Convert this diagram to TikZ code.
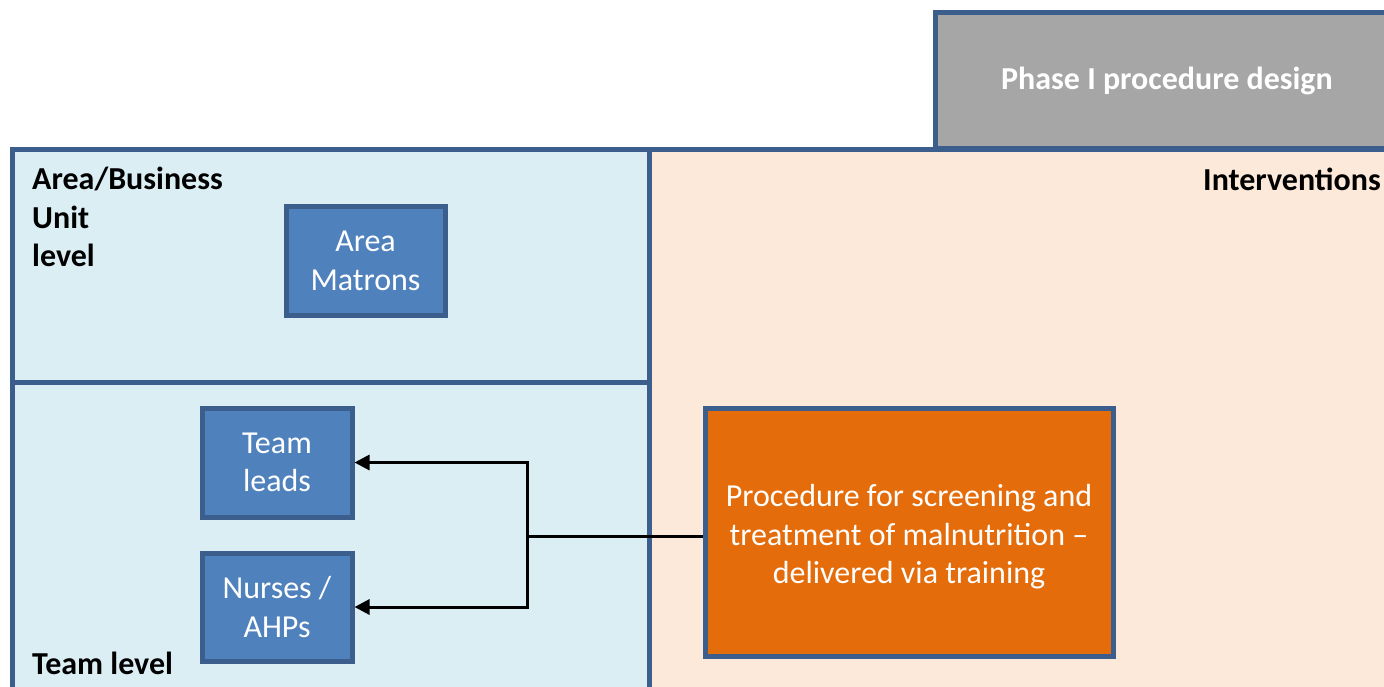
\documentclass[tikz,border=0pt]{standalone}
\usepackage{fontspec}
\setmainfont{Carlito}
\usetikzlibrary{arrows.meta}
\definecolor{bord}{HTML}{3B5E8C}
\definecolor{lblue}{HTML}{DBEEF4}
\definecolor{peach}{HTML}{FDE9DA}
\definecolor{greyfill}{HTML}{A6A6A6}
\definecolor{boxblue}{HTML}{4F81BD}
\definecolor{orangefill}{HTML}{E46C0A}
\tikzset{
  region/.style={draw=bord, line width=5pt},
  pbox/.style={draw=bord, line width=5pt, fill=boxblue, text=white, align=center,
    font=\fontsize{32}{38.5}\selectfont, inner sep=0pt},
  obox/.style={pbox, fill=orangefill},
  hdr/.style={font=\fontsize{32}{38.5}\selectfont\bfseries, inner sep=0pt, align=left},
  conn/.style={draw=black, line width=3pt},
  arr/.style={conn, -{Triangle[length=15pt,width=15pt]}},
}
\begin{document}
\begin{tikzpicture}[x=1pt,y=-1pt]
\useasboundingbox (0,0) rectangle (1384,686);
\begin{scope}
\clip (0,0) rectangle (1384,686);
\draw[region, fill=peach] (649,149) rectangle (1420,720);
\draw[region, fill=lblue] (12,149) rectangle (649,382);
\draw[region, fill=lblue] (12,382) rectangle (649,720);
\draw[region, fill=greyfill] (935,12) rectangle (1401,148);
\end{scope}
\node[hdr, text=white] (phase) at (1167,81) {Phase I procedure design};
\node[hdr, anchor=east] (interv) at (1381,179) {Interventions};
\node[hdr, anchor=west] (arealbl) at (32,217) {Area/Business\\Unit\\level};
\node[hdr, anchor=west] (teamlbl) at (32,663) {Team level};

\node[pbox, minimum width=159pt, minimum height=109pt] (matrons) at (365.5,261) {Area\\Matrons};
\node[pbox, minimum width=150pt, minimum height=109pt] (leads) at (277,462.5) {Team\\leads};
\node[pbox, minimum width=150pt, minimum height=108pt] (nurses) at (277,607) {Nurses /\\AHPs};
\node[obox, minimum width=408pt, minimum height=248pt] (proc) at (909,532) {\rule{0pt}{32pt}Procedure for screening and\\treatment of malnutrition –\\delivered via training};

\coordinate (j) at (527,536);
\draw[conn] (j -| proc.west) -- (j);
\draw[arr] (j) |- (leads.east);
\draw[arr] (j) |- (nurses.east);
\end{tikzpicture}
\end{document}
